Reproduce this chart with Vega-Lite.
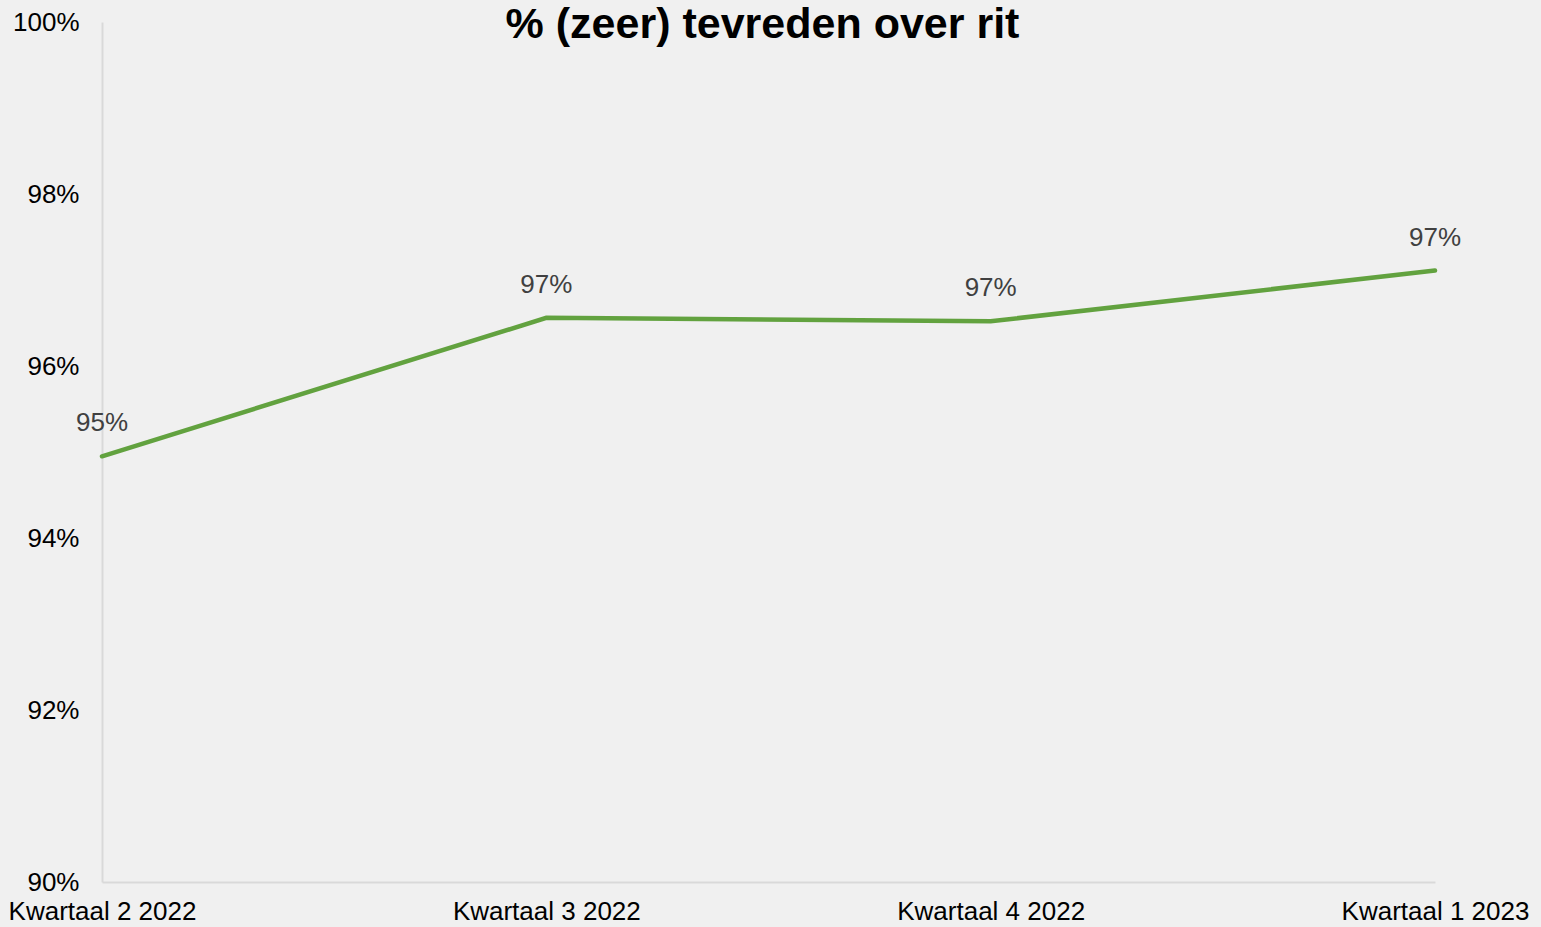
{
  "$schema": "https://vega.github.io/schema/vega-lite/v6.json",
  "autosize": {"type": "none"},
  "width": 1333,
  "height": 860,
  "padding": {"left": 102, "top": 22, "right": 106, "bottom": 45},
  "background": "#f0f0f0",
  "config": {
    "view": {"stroke": null},
    "font": "Liberation Sans"
  },
  "title": {
    "text": "% (zeer) tevreden over rit",
    "font": "Liberation Sans",
    "fontSize": 43,
    "fontWeight": "bold",
    "color": "#000000",
    "anchor": "middle",
    "frame": "group",
    "baseline": "alphabetic",
    "offset": -72,
    "dx": -6
  },
  "data": {
    "values": [
      {"kwartaal": "Kwartaal 2 2022", "waarde": 0.9495},
      {"kwartaal": "Kwartaal 3 2022", "waarde": 0.9656},
      {"kwartaal": "Kwartaal 4 2022", "waarde": 0.9652},
      {"kwartaal": "Kwartaal 1 2023", "waarde": 0.9711}
    ]
  },
  "encoding": {
    "x": {
      "field": "kwartaal",
      "type": "ordinal",
      "sort": null,
      "scale": {"type": "point", "padding": 0},
      "axis": {
        "title": null,
        "labelAngle": 0,
        "labelFontSize": 26,
        "labelColor": "#000000",
        "labelPadding": 16,
        "labelLimit": 0,
        "labelOverlap": false,
        "labelFlush": false,
        "ticks": false,
        "grid": false,
        "domainColor": "#d9d9d9",
        "domainWidth": 2
      }
    },
    "y": {
      "field": "waarde",
      "type": "quantitative",
      "scale": {"domain": [0.9, 1.0], "nice": false, "zero": false},
      "axis": {
        "title": null,
        "format": ".0%",
        "values": [0.9, 0.92, 0.94, 0.96, 0.98, 1.0],
        "labelFontSize": 26,
        "labelColor": "#000000",
        "labelPadding": 23,
        "ticks": false,
        "grid": false,
        "domainColor": "#d9d9d9",
        "domainWidth": 2
      }
    }
  },
  "layer": [
    {
      "mark": {"type": "line", "color": "#62a23f", "strokeWidth": 4.5, "strokeCap": "round"}
    },
    {
      "mark": {"type": "text", "fontSize": 26, "color": "#404040", "dy": -33, "baseline": "middle"},
      "encoding": {
        "text": {"field": "waarde", "type": "quantitative", "format": ".0%"}
      }
    }
  ]
}
